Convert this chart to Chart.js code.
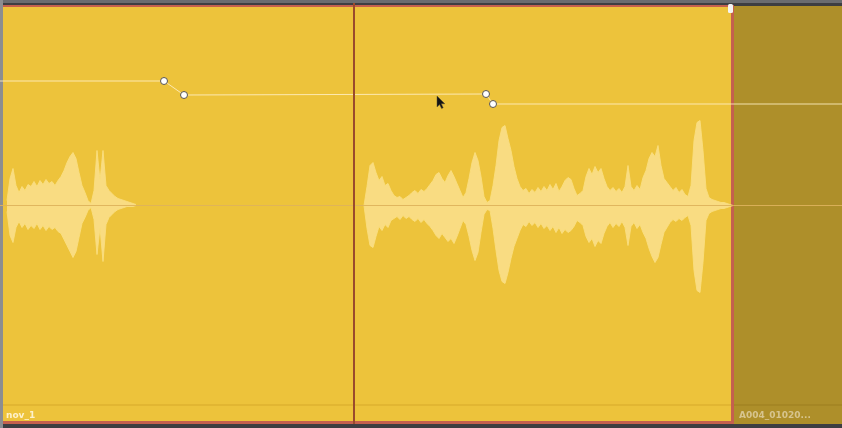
<!DOCTYPE html>
<html lang="en">
<head>
  <meta charset="UTF-8" />
  <title>Timeline clip</title>
  <style>
    * { margin: 0; padding: 0; }
    body { background: #3d3e42; overflow: hidden; }
    .chartBox { width: 842px; height: 428px; }
  </style>
</head>
<body>
  <div class="chartBox"><canvas id="myChart"></canvas></div>
  <script src="https://cdn.jsdelivr.net/npm/chart.js@4/dist/chart.umd.min.js"></script>
  <script>
    // clips on the track (timeline units)
    const clipNames = ["nov_1", "A004_01020..."];
    const clipStarts = [3, 734];
    const clipEnds = [732, 842];
    const playhead = 354;

    // waveform envelopes, one sample every 3 timeline units
    const waveStep = 3;
    const wave1Start = 7;
    const wave1Top = [5, 27, 37, 20, 13, 19, 15, 21, 19, 24, 19, 25, 21, 26, 22, 24, 20, 25, 29, 35, 43, 49,
      53, 47, 33, 20, 13, 5, 2, 15, 55, 25, 55, 20, 15, 12, 9, 7, 6, 5, 4, 3, 2, 1];
    const wave1Bottom = [6, 30, 37, 22, 16, 22, 18, 24, 20, 23, 18, 24, 20, 25, 21, 24, 22, 26, 28, 34, 40, 46,
      52, 46, 32, 18, 12, 5, 2, 14, 49, 22, 56, 19, 12, 9, 6, 4, 3, 2, 1, 1, 1, 0];

    const wave2Start = 364;
    const wave2Top = [0, 19, 40, 43, 33, 25, 29, 20, 22, 15, 10, 8, 9, 6, 8, 10, 13, 15, 12, 16, 14, 17, 21, 25,
      31, 33, 27, 23, 30, 35, 29, 22, 15, 8, 13, 27, 43, 53, 45, 29, 9, 3, 5, 20, 40, 65, 78, 80, 67, 55, 39, 27,
      19, 15, 17, 12, 16, 13, 18, 14, 19, 15, 21, 16, 22, 14, 19, 25, 28, 26, 17, 10, 12, 15, 29, 37, 31, 39, 33,
      37, 27, 19, 15, 18, 14, 17, 13, 19, 40, 19, 15, 20, 16, 28, 35, 47, 53, 49, 60, 40, 27, 23, 19, 15, 18, 13,
      16, 11, 9, 20, 65, 83, 85, 55, 17, 8, 6, 5, 4, 3, 3, 2, 1, 0];
    const wave2Bottom = [0, 23, 40, 42, 31, 21, 25, 19, 22, 15, 13, 11, 14, 10, 13, 11, 14, 16, 13, 17, 14, 18, 21,
      25, 30, 33, 28, 32, 36, 33, 38, 31, 23, 15, 19, 31, 45, 55, 47, 27, 9, 4, 5, 23, 45, 65, 76, 78, 67, 53, 41,
      33, 25, 19, 21, 16, 20, 17, 22, 18, 23, 20, 25, 21, 27, 22, 28, 24, 27, 25, 21, 15, 17, 20, 31, 37, 33, 41,
      35, 38, 28, 21, 17, 22, 18, 21, 16, 22, 40, 21, 17, 23, 19, 27, 33, 43, 51, 57, 52, 39, 27, 22, 17, 14, 16,
      13, 15, 12, 10, 20, 65, 85, 87, 57, 15, 8, 6, 5, 4, 3, 3, 2, 1, 0];

    // clip volume envelope with keyframes
    const volumeX = [0, 164, 184, 486, 493, 842];
    const volumeY = [124.5, 124.5, 110.5, 111.5, 101.5, 101.5];
    const volumeKeys = [false, true, true, true, true, false];

    // mouse pointer tip
    const pointerAt = { x: 437, y: 109.5 };

    function envelope(start, values, sign) {
      return values.map((v, i) => ({ x: start + i * waveStep, y: sign * v }));
    }

    const waveStyle = {
      borderColor: "rgba(250, 222, 128, 0.9)",
      backgroundColor: "#F9DC82",
      borderWidth: 1,
      pointRadius: 0,
      tension: 0,
      fill: "origin",
      order: 3,
    };

    const data = {
      datasets: [
        {
          label: "volume",
          data: volumeX.map((v, i) => ({ x: v, y: volumeY[i] })),
          borderColor: "rgba(255, 240, 196, 0.85)",
          borderWidth: 1,
          pointRadius: volumeKeys.map((k) => (k ? 3.5 : 0)),
          pointBackgroundColor: "#ffffff",
          pointBorderColor: "#5a5550",
          pointBorderWidth: 1,
          tension: 0,
          fill: false,
          order: 0,
        },
        {
          label: "centre",
          data: [{ x: 0, y: 0 }, { x: 842, y: 0 }],
          borderColor: "rgba(222, 178, 92, 0.9)",
          borderWidth: 1,
          pointRadius: 0,
          fill: false,
          order: 1,
        },
        Object.assign({ label: "wave1 top", data: envelope(wave1Start, wave1Top, 1) }, waveStyle),
        Object.assign({ label: "wave1 bottom", data: envelope(wave1Start, wave1Bottom, -1) }, waveStyle),
        Object.assign({ label: "wave2 top", data: envelope(wave2Start, wave2Top, 1) }, waveStyle),
        Object.assign({ label: "wave2 bottom", data: envelope(wave2Start, wave2Bottom, -1) }, waveStyle),
      ],
    };

    const trackPlugin = {
      id: "track",
      beforeDraw(chart) {
        const { ctx, width, height } = chart;
        const sx = chart.scales.x;
        ctx.save();
        ctx.fillStyle = "#3d3e42";
        ctx.fillRect(0, 0, width, height);
        ctx.fillStyle = "#6a6c70";
        ctx.fillRect(0, 0, width, 3);
        ctx.fillStyle = "#8c8d91";
        ctx.fillRect(0, 0, 3, height);

        clipNames.forEach((name, i) => {
          const x0 = sx.getPixelForValue(clipStarts[i]);
          const x1 = sx.getPixelForValue(clipEnds[i]);
          const selected = i === 0;
          if (selected) {
            ctx.fillStyle = "#C4604E";
            ctx.fillRect(x0, 5, x1 - x0 + 2, 419);
            ctx.fillStyle = "#EDC33B";
            ctx.fillRect(x0, 7, x1 - x0 - 1, 414);
          } else {
            ctx.fillStyle = "#AE8F2A";
            ctx.fillRect(x0, 6, x1 - x0, 418);
          }
          // name bar separator
          ctx.fillStyle = selected ? "rgba(196, 150, 30, 0.55)" : "rgba(140, 110, 20, 0.5)";
          ctx.fillRect(x0, 404.5, x1 - x0 - (selected ? 1 : 0), 1);
          ctx.font = "bold 9px 'DejaVu Sans', sans-serif";
          ctx.textBaseline = "alphabetic";
          ctx.fillStyle = selected ? "rgba(255, 246, 220, 0.9)" : "rgba(222, 206, 160, 0.85)";
          ctx.fillText(name, x0 + (selected ? 3 : 5), 418);
        });
        ctx.restore();
      },
      afterDatasetsDraw(chart) {
        const { ctx } = chart;
        const sx = chart.scales.x;
        const sy = chart.scales.y;
        ctx.save();
        // playhead
        const px = Math.round(sx.getPixelForValue(playhead));
        ctx.fillStyle = "#9A4A2C";
        ctx.fillRect(px - 1, 3, 2, 421);
        // clip end handle
        const hx = sx.getPixelForValue(clipEnds[0]);
        ctx.fillStyle = "#f4f4f4";
        ctx.beginPath();
        ctx.roundRect(hx - 4, 4, 5, 9, 1.5);
        ctx.fill();
        // mouse pointer
        const cx = sx.getPixelForValue(pointerAt.x);
        const cy = sy.getPixelForValue(pointerAt.y);
        ctx.translate(cx, cy);
        ctx.beginPath();
        ctx.moveTo(0, 0);
        ctx.lineTo(0, 11);
        ctx.lineTo(2.6, 8.6);
        ctx.lineTo(4.6, 12.6);
        ctx.lineTo(6.2, 11.8);
        ctx.lineTo(4.3, 7.8);
        ctx.lineTo(7.8, 7.8);
        ctx.closePath();
        ctx.fillStyle = "#141414";
        ctx.fill();
        ctx.strokeStyle = "rgba(90, 80, 50, 0.6)";
        ctx.lineWidth = 0.8;
        ctx.stroke();
        ctx.restore();
      },
    };

    const options = {
      responsive: true,
      maintainAspectRatio: false,
      animation: false,
      events: [],
      layout: { padding: 0 },
      scales: {
        x: { type: "linear", min: 0, max: 842, display: false },
        y: { min: -222.5, max: 205.5, display: false },
      },
      plugins: {
        legend: { display: false },
        tooltip: { enabled: false },
      },
    };

    const ctx = document.getElementById("myChart").getContext("2d");
    const myChart = new Chart(ctx, {
      type: "line",
      data: data,
      options: options,
      plugins: [trackPlugin],
    });
  </script>
</body>
</html>
